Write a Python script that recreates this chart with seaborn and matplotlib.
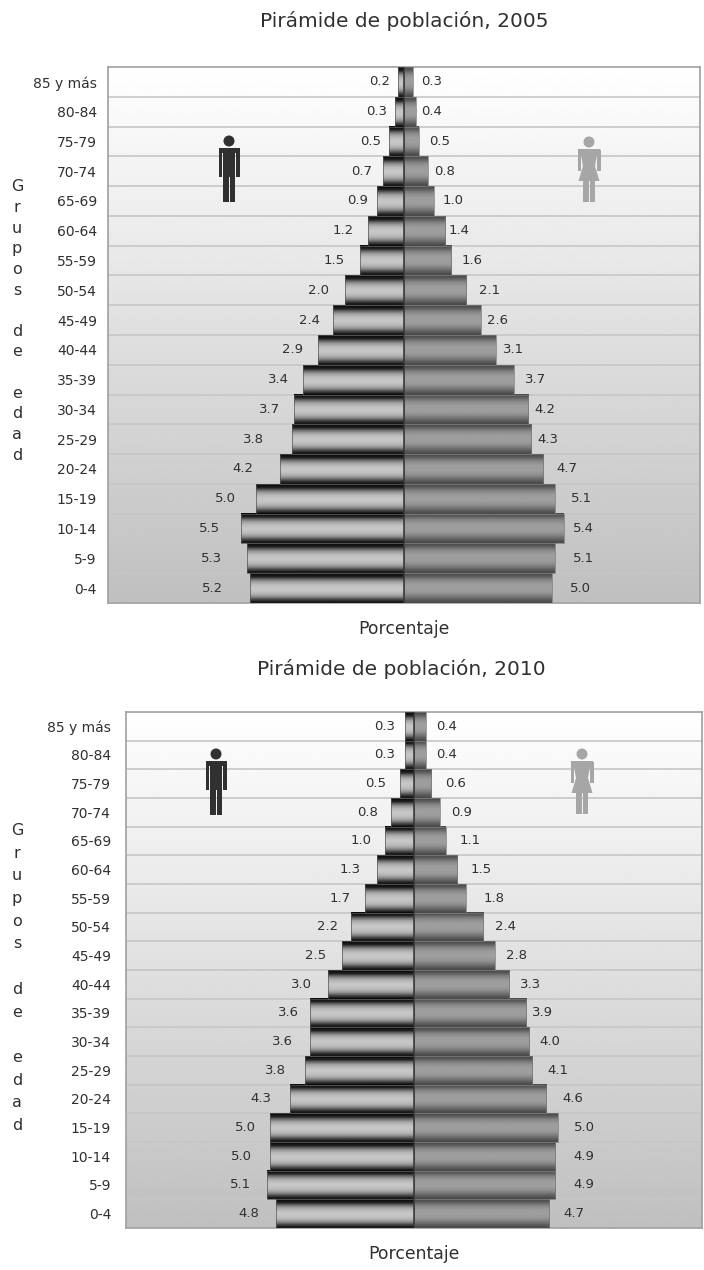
import matplotlib
matplotlib.use('Agg')
import matplotlib.pyplot as plt
from matplotlib.patches import Circle, Polygon, Rectangle
import numpy as np
import pandas as pd
import seaborn as sns

age_groups = ['85 y más', '80-84', '75-79', '70-74', '65-69', '60-64', '55-59', '50-54', '45-49',
              '40-44', '35-39', '30-34', '25-29', '20-24', '15-19', '10-14', '5-9', '0-4']

men_2005 = [0.2, 0.3, 0.5, 0.7, 0.9, 1.2, 1.5, 2.0, 2.4, 2.9, 3.4, 3.7, 3.8, 4.2, 5.0, 5.5, 5.3, 5.2]
women_2005 = [0.3, 0.4, 0.5, 0.8, 1.0, 1.4, 1.6, 2.1, 2.6, 3.1, 3.7, 4.2, 4.3, 4.7, 5.1, 5.4, 5.1, 5.0]
men_2010 = [0.3, 0.3, 0.5, 0.8, 1.0, 1.3, 1.7, 2.2, 2.5, 3.0, 3.6, 3.6, 3.8, 4.3, 5.0, 5.0, 5.1, 4.8]
women_2010 = [0.4, 0.4, 0.6, 0.9, 1.1, 1.5, 1.8, 2.4, 2.8, 3.3, 3.9, 4.0, 4.1, 4.6, 5.0, 4.9, 4.9, 4.7]

# Gap in pixels between the end of a bar and the centre of its label
gaps_men_2005 = [18, 18, 19, 22, 20, 25, 25, 26, 23, 26, 25, 25, 38, 37, 31, 32, 36, 38]
gaps_women_2005 = [19, 16, 21, 17, 19, 14, 21, 23, 17, 18, 22, 17, 17, 24, 27, 20, 29, 28]
gaps_men_2010 = [21, 21, 24, 23, 24, 26, 25, 23, 26, 26, 22, 28, 29, 29, 25, 29, 27, 27]
gaps_women_2010 = [21, 21, 24, 22, 24, 24, 28, 22, 22, 22, 16, 21, 26, 26, 26, 29, 29, 25]

W, H = 704, 1270
TEXT = '#303030'

# Gradients across a single bar
men_grad = np.array([0.05, 0.14, 0.42, 0.62, 0.72, 0.77, 0.78, 0.75, 0.68, 0.54, 0.3, 0.1])
women_grad = np.array([0.3, 0.38, 0.5, 0.57, 0.61, 0.62, 0.62, 0.6, 0.55, 0.47, 0.38, 0.3])


def shade(ax, patch, grad):
    # Paint the bar rectangle drawn by seaborn with a vertical gradient
    x, y = patch.get_x(), patch.get_y()
    w, h = patch.get_width(), patch.get_height()
    ax.imshow(grad.reshape(-1, 1), extent=(x, x + w, y + h, y), cmap='gray', vmin=0, vmax=1,
              aspect='auto', interpolation='bilinear', zorder=3)
    # Keep the seaborn rectangle as a thin outline on top
    patch.set_facecolor('none')
    patch.set_edgecolor('#555555' if w < 0 else '#777777')
    patch.set_linewidth(0.5)
    patch.set_zorder(3.5)


def person(px, cx, top, color, female=False):
    # Small toilet-sign figure, positions given in pixels of the image
    def box(x0, y0, x1, y1):
        px.add_patch(Rectangle((cx + x0, top + y0), x1 - x0, y1 - y0, fc=color, ec='none'))

    px.add_patch(Circle((cx, top + 6), 5.5, fc=color, ec='none'))
    if female:
        box(-11.5, 14, -8, 35)
        box(8, 14, 11.5, 35)
        px.add_patch(Polygon([(cx - 11.5, top + 13), (cx + 11.5, top + 13), (cx + 8, top + 19), (cx + 6, top + 30),
                              (cx + 10.5, top + 45), (cx - 10.5, top + 45), (cx - 6, top + 30), (cx - 8, top + 19)],
                             fc=color, ec='none'))
        box(-6, 44, -0.5, 66)
        box(0.5, 44, 6, 66)
    else:
        box(-10.5, 13, 10.5, 18)
        box(-10.5, 13, -7, 42)
        box(7, 13, 10.5, 42)
        box(-6, 13, 6, 42)
        box(-6, 41, -0.5, 67)
        box(0.5, 41, 6, 67)


def pyramid(fig, box, title, title_xy, xlabel_y, ylabel_mid, ylabel_spacing, tick_pad, men, women, gaps_men, gaps_women):
    left, top, right, bottom = box
    ax = fig.add_axes([left / W, 1 - bottom / H, (right - left) / W, (bottom - top) / H])
    df = pd.DataFrame({
        'age': age_groups * 2,
        'value': [-v for v in men] + list(women),
        'sex': ['M'] * len(men) + ['F'] * len(women),
    })
    sns.barplot(data=df, x='value', y='age', hue='sex', dodge=False, orient='h', order=age_groups,
                width=1.0, legend=False, ax=ax, palette={'M': '#888888', 'F': '#777777'}, zorder=2)
    ax.set_xlim(-10, 10)
    ax.set_ylim(len(age_groups) - 0.5, -0.5)

    # Background fading from white to grey
    bg = np.linspace(1.0, 0.75, 256).reshape(-1, 1)
    ax.imshow(bg, extent=(-10, 10, len(age_groups) - 0.5, -0.5), cmap='gray', vmin=0, vmax=1,
              aspect='auto', zorder=0)
    for y in np.arange(0.5, len(age_groups) - 1):
        ax.axhline(y, color='#c6c6c6', lw=1.2, zorder=1)

    for patch in ax.patches:
        if patch.get_height() == 0 or patch.get_width() == 0:
            continue
        shade(ax, patch, men_grad if patch.get_width() < 0 else women_grad)
    ax.axvline(0, color='#333333', lw=1.1, zorder=4)

    for i, (m, w) in enumerate(zip(men, women)):
        ax.annotate(f'{m:.1f}', (-m, i), xytext=(-gaps_men[i], 0), textcoords='offset pixels',
                    ha='center', va='center', fontsize=9.5, color=TEXT)
        ax.annotate(f'{w:.1f}', (w, i), xytext=(gaps_women[i], 0), textcoords='offset pixels',
                    ha='center', va='center', fontsize=9.5, color=TEXT)

    ax.set_xticks([])
    ax.tick_params(axis='y', length=0, pad=tick_pad, labelsize=10, labelcolor=TEXT)
    ax.set_xlabel('')
    ax.set_ylabel('')
    for spine in ax.spines.values():
        spine.set_color('#a0a0a0')
        spine.set_linewidth(1.2)

    fig.text(title_xy[0] / W, 1 - title_xy[1] / H, title, ha='center', va='center', fontsize=14.5, color=TEXT)
    fig.text((left + right) / 2 / W, 1 - xlabel_y / H, 'Porcentaje', ha='center', va='center',
             fontsize=12.4, color=TEXT)
    fig.text(17 / W, 1 - ylabel_mid / H, '\n'.join('Grupos de edad'), ha='center', va='center',
             fontsize=11.5, color=TEXT, linespacing=ylabel_spacing)
    return ax


sns.set_theme(style='white')
plt.rcParams['font.family'] = ['DejaVu Sans']

fig = plt.figure(figsize=(W / 100, H / 100), dpi=100, facecolor='white')

pyramid(fig, (108, 67, 700, 603), 'Pirámide de población, 2005', (404, 21), 629, 321, 1.47, 8,
        men_2005, women_2005, gaps_men_2005, gaps_women_2005)
pyramid(fig, (126, 712, 702, 1228), 'Pirámide de población, 2010', (401, 669), 1254, 978, 1.64, 10.8,
        men_2010, women_2010, gaps_men_2010, gaps_women_2010)

px = fig.add_axes([0, 0, 1, 1], facecolor='none')
px.set_xlim(0, W)
px.set_ylim(H, 0)
px.axis('off')
person(px, 229, 135, '#303030')
person(px, 589, 136, '#a6a6a6', female=True)
person(px, 216, 748, '#303030')
person(px, 582, 748, '#a6a6a6', female=True)

fig.savefig('out.png', dpi=100)
